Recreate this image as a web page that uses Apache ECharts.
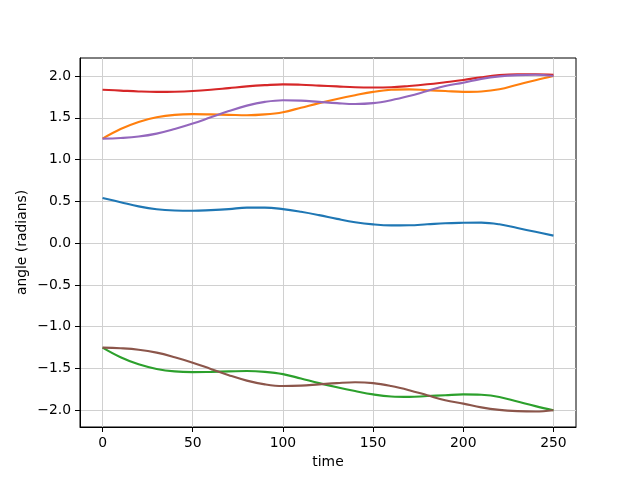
<!DOCTYPE html>
<html>
<head>
<meta charset="utf-8">
<script src="https://cdn.jsdelivr.net/npm/echarts@6/dist/echarts.min.js"></script>
<style>html,body{margin:0;padding:0;background:#fff}#c{width:640px;height:480px}</style>
</head>
<body>
<div id="c"></div>
<script>
const time = [0,10,20,30,40,50,60,70,80,90,100,110,120,130,140,150,160,170,180,190,200,210,220,230,240,250];
const blue   = [0.54,0.49,0.44,0.405,0.39,0.387,0.395,0.407,0.425,0.425,0.407,0.375,0.335,0.29,0.25,0.224,0.212,0.213,0.225,0.238,0.243,0.245,0.225,0.18,0.135,0.09];
const orange = [1.25,1.365,1.45,1.505,1.535,1.543,1.54,1.535,1.53,1.54,1.567,1.62,1.675,1.725,1.77,1.81,1.835,1.84,1.83,1.82,1.81,1.815,1.84,1.895,1.95,2.0];
const green  = [-1.25,-1.365,-1.45,-1.505,-1.535,-1.543,-1.54,-1.535,-1.53,-1.54,-1.567,-1.62,-1.675,-1.725,-1.77,-1.81,-1.835,-1.84,-1.83,-1.82,-1.81,-1.815,-1.84,-1.895,-1.95,-2.0];
const red    = [1.835,1.825,1.815,1.81,1.812,1.82,1.835,1.855,1.875,1.89,1.9,1.895,1.885,1.875,1.865,1.862,1.865,1.88,1.9,1.925,1.952,1.985,2.01,2.02,2.02,2.015];
const purple = [1.25,1.258,1.275,1.31,1.365,1.43,1.505,1.58,1.645,1.69,1.71,1.705,1.69,1.675,1.665,1.675,1.71,1.76,1.82,1.88,1.92,1.965,1.995,2.01,2.015,2.0];
const brown  = [-1.25,-1.258,-1.275,-1.31,-1.365,-1.43,-1.505,-1.58,-1.645,-1.69,-1.71,-1.705,-1.69,-1.675,-1.665,-1.675,-1.71,-1.76,-1.82,-1.88,-1.92,-1.965,-1.995,-2.01,-2.015,-2.0];
const xTicks = [0,50,100,150,200,250];
const yTicks = [-2.0,-1.5,-1.0,-0.5,0.0,0.5,1.0,1.5,2.0];

const seriesList = [
  {name:'s0', data: blue,   color:'#1f77b4'},
  {name:'s1', data: orange, color:'#ff7f0e'},
  {name:'s2', data: green,  color:'#2ca02c'},
  {name:'s3', data: red,    color:'#d62728'},
  {name:'s4', data: purple, color:'#9467bd'},
  {name:'s5', data: brown,  color:'#8c564b'}
];
const font = 'DejaVu Sans';
const chart = echarts.init(document.getElementById('c'), null, {renderer:'canvas'});
chart.setOption({
  animation: false,
  backgroundColor: '#fff',
  grid: {left: 80, right: 64, top: 58, bottom: 53, show: true, borderColor: '#000', borderWidth: 1, backgroundColor: 'transparent', outerBoundsMode: 'none', containLabel: false},
  xAxis: {
    type: 'value', min: -12.5, max: 262.5,
    name: 'time', nameLocation: 'middle', nameGap: 28, nameMoveOverlap: false,
    nameTextStyle: {fontFamily: font, fontSize: 13.9, color: '#000'},
    axisLine: {show: true, onZero: false, lineStyle: {color: '#000', width: 1}},
    axisTick: {show: true, length: 5, customValues: xTicks, lineStyle: {color: '#000'}},
    axisLabel: {customValues: xTicks, margin: 9, fontFamily: font, fontSize: 13.9, color: '#000', formatter: v => String(v)},
    splitLine: {show: true, lineStyle: {color: '#d0d0d0', width: 1}}
  },
  yAxis: {
    type: 'value', min: -2.2, max: 2.215,
    name: 'angle (radians)', nameLocation: 'middle', nameGap: 51, nameMoveOverlap: false,
    nameTextStyle: {fontFamily: font, fontSize: 13.9, color: '#000'},
    axisLine: {show: true, onZero: false, lineStyle: {color: '#000', width: 1}},
    axisTick: {show: true, length: 5, customValues: yTicks, lineStyle: {color: '#000'}},
    axisLabel: {customValues: yTicks, margin: 9, fontFamily: font, fontSize: 13.9, color: '#000', formatter: v => v.toFixed(1).replace('-', '\u2212')},
    splitLine: {show: true, lineStyle: {color: '#d0d0d0', width: 1}}
  },
  series: seriesList.map(s => ({
    type: 'line', name: s.name, smooth: 0.4, showSymbol: false, symbol: 'none',
    data: time.map((t, i) => [t, s.data[i]]),
    lineStyle: {color: s.color, width: 2.1}, itemStyle: {color: s.color}
  }))
});
</script>
</body>
</html>
